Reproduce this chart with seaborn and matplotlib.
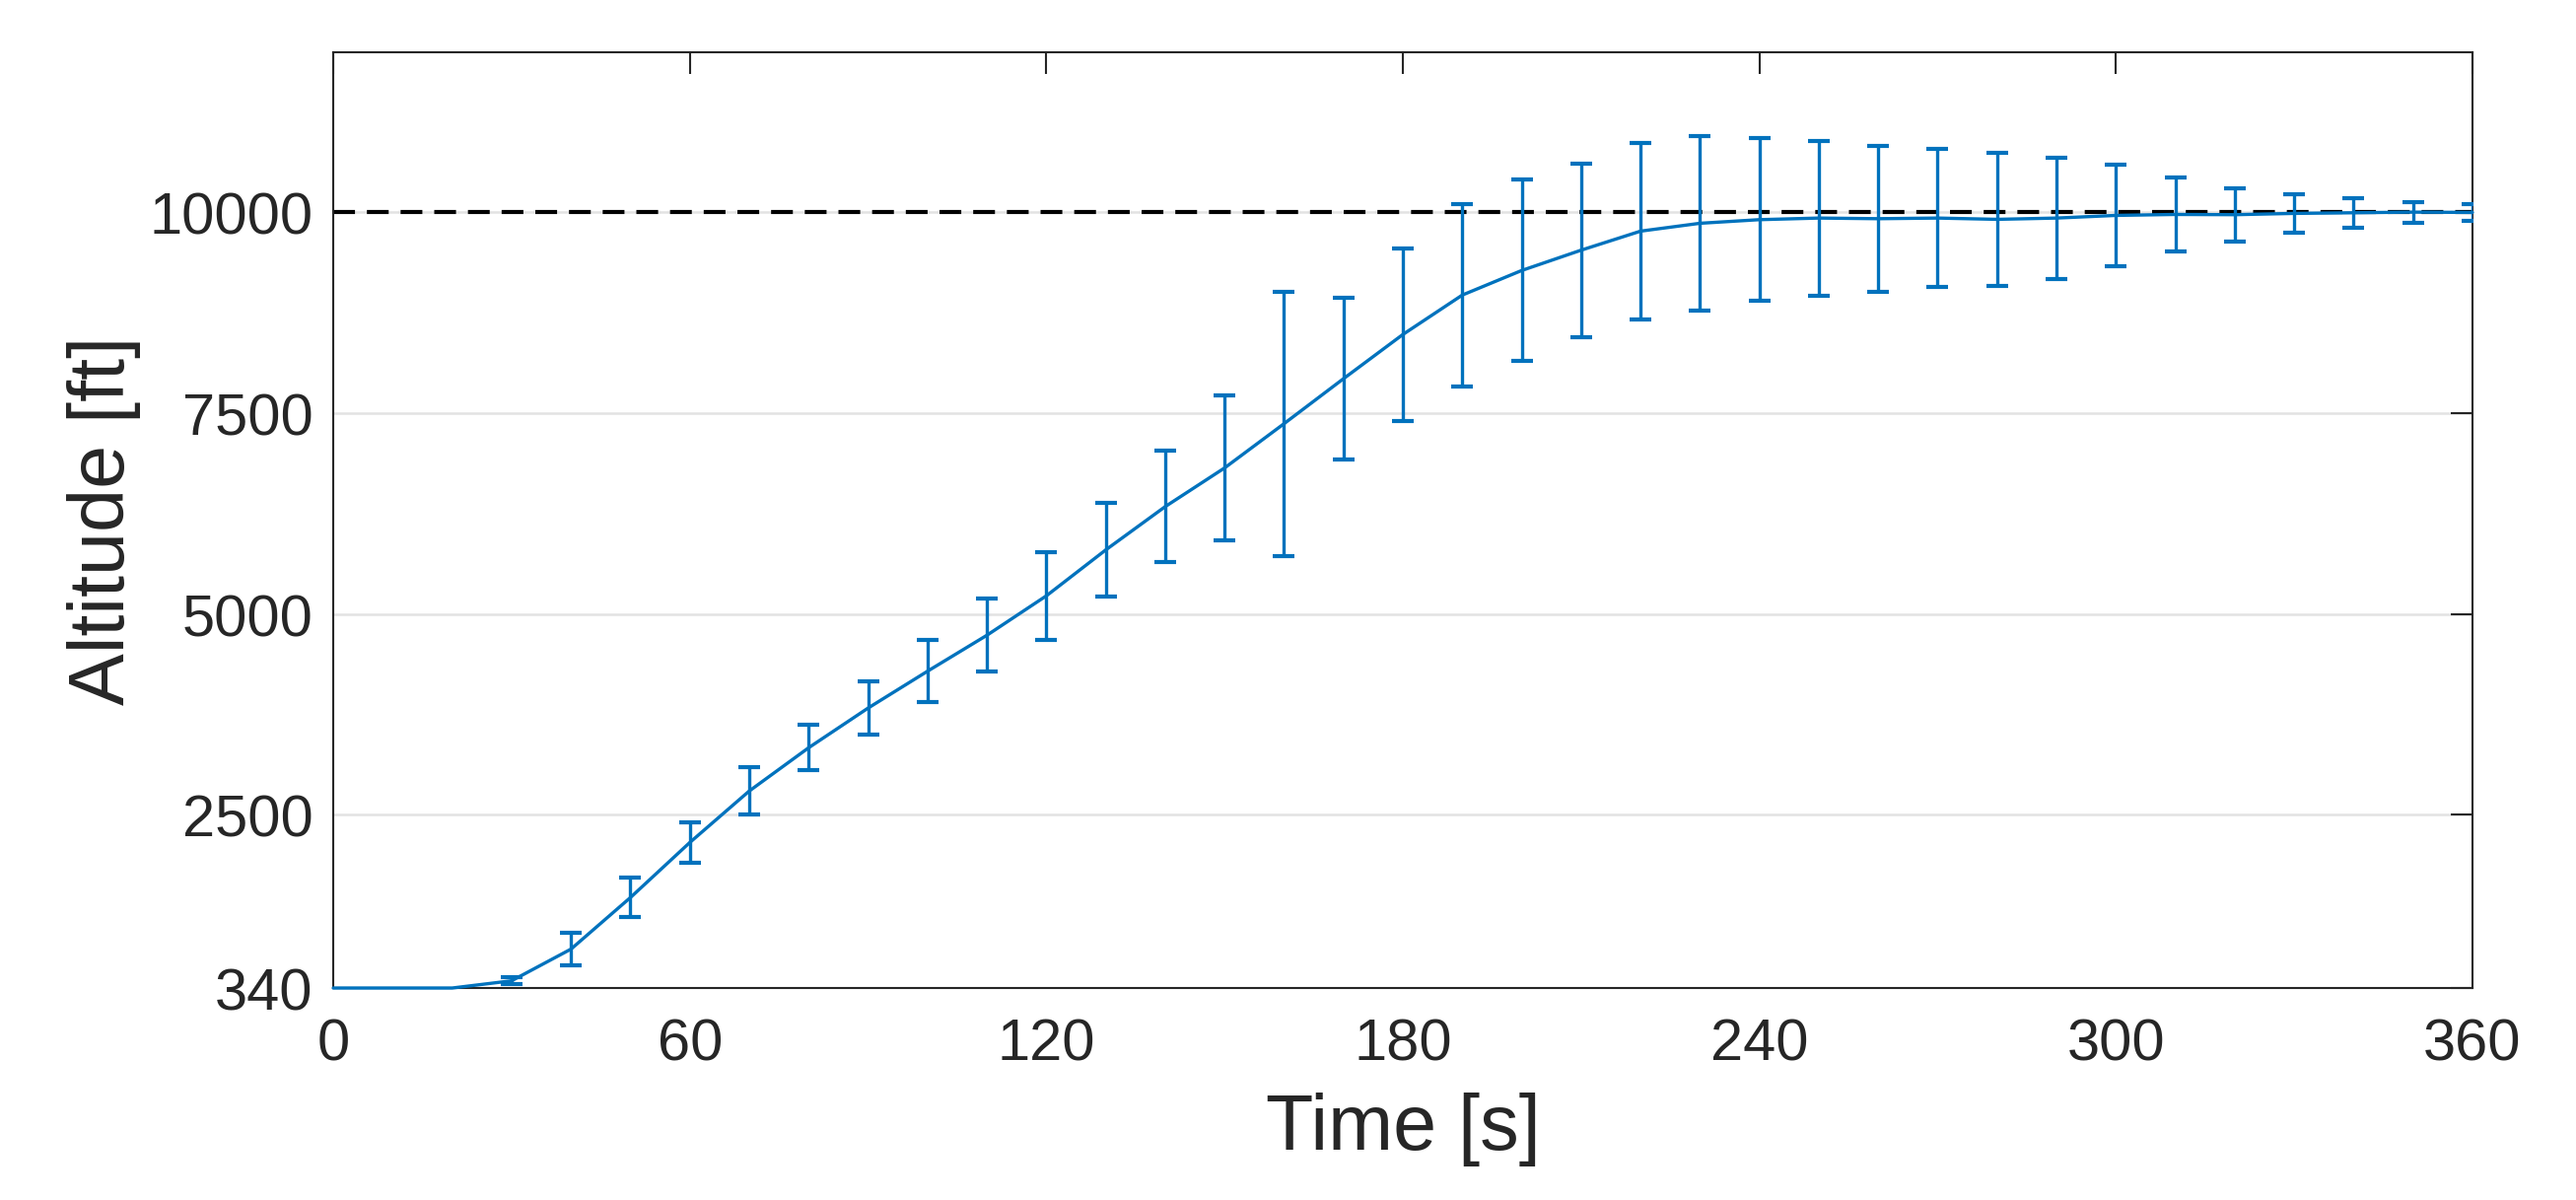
import numpy as np
import pandas as pd
import matplotlib
matplotlib.use("Agg")
import matplotlib.pyplot as plt
import seaborn as sns

# -------------------------------
# Data
# -------------------------------
time_s = [0, 10, 20, 30, 40, 50, 60, 70, 80, 90, 100, 110, 120, 130, 140,
          150, 160, 170, 180, 190, 200, 210, 220, 230, 240, 250, 260, 270,
          280, 290, 300, 310, 320, 330, 340, 350, 360]

altitude_mean = [340, 340, 340, 430, 825, 1467, 2153, 2794, 3333, 3827, 4286,
                 4734, 5225, 5797, 6336, 6818, 7369, 7929, 8480, 8971, 9277,
                 9530, 9767, 9865, 9910, 9930, 9922, 9930, 9914, 9930, 9963,
                 9975, 9972, 9988, 9996, 10004, 10000]

altitude_err = [0, 0, 0, 40, 200, 245, 255, 295, 282, 327, 384, 452, 545, 585,
                695, 900, 1645, 1010, 1072, 1135, 1131, 1082, 1103, 1085, 1015,
                965, 910, 862, 833, 755, 627, 466, 330, 240, 184, 130, 104]

target_altitude = 10000

x_ticks = [0, 60, 120, 180, 240, 300, 360]
y_ticks = [340, 2500, 5000, 7500, 10000]

df = pd.DataFrame({"Time": time_s, "Altitude": altitude_mean, "Err": altitude_err})

# -------------------------------
# Style
# -------------------------------
sns.set_theme(style="white")
plt.rcParams["font.family"] = ["Liberation Sans", "DejaVu Sans"]
text_color = "#262626"
blue = "#0072BD"

fig = plt.figure(figsize=(2613 / 300, 1218 / 300), dpi=300)
ax = fig.add_axes([0.1294, 0.1765, 0.8304, 0.7795])

# grid lines under everything
ax.set_axisbelow(True)
ax.yaxis.grid(True, color="#e2e2e2", linewidth=0.6)
ax.xaxis.grid(False)

# reference line
ax.axhline(target_altitude, color="black", linewidth=1.0,
           linestyle=(0, (5.3, 2.9)), zorder=2)

# mean line
sns.lineplot(data=df, x="Time", y="Altitude", color=blue, linewidth=0.8,
             ax=ax, zorder=3, clip_on=False)

# error bars
bars = df[df["Err"] > 0]
ax.errorbar(bars["Time"], bars["Altitude"], yerr=bars["Err"], fmt="none",
            ecolor=blue, elinewidth=0.8, capsize=2.6, capthick=1.0, zorder=3)

# -------------------------------
# Axes
# -------------------------------
ax.set_xlim(0, 360)
ax.set_ylim(340, 12000)
ax.set_xticks(x_ticks)
ax.set_yticks(y_ticks)
ax.set_xticklabels([str(t) for t in x_ticks])
ax.set_yticklabels([str(t) for t in y_ticks])

ax.tick_params(axis="both", which="both", direction="in", length=5.3,
               width=0.5, colors=text_color, labelsize=14.3,
               top=True, right=True)
ax.tick_params(axis="x", pad=7)
ax.tick_params(axis="y", pad=5)

for side in ["top", "bottom", "left", "right"]:
    ax.spines[side].set_visible(True)
    ax.spines[side].set_color("#262626")
    ax.spines[side].set_linewidth(0.5)

ax.set_xlabel("Time [s]", fontsize=19, color=text_color, labelpad=5)
ax.set_ylabel("Altitude [ft]", fontsize=19, color=text_color, labelpad=2)

fig.savefig("out.png", dpi=300, facecolor="white")
